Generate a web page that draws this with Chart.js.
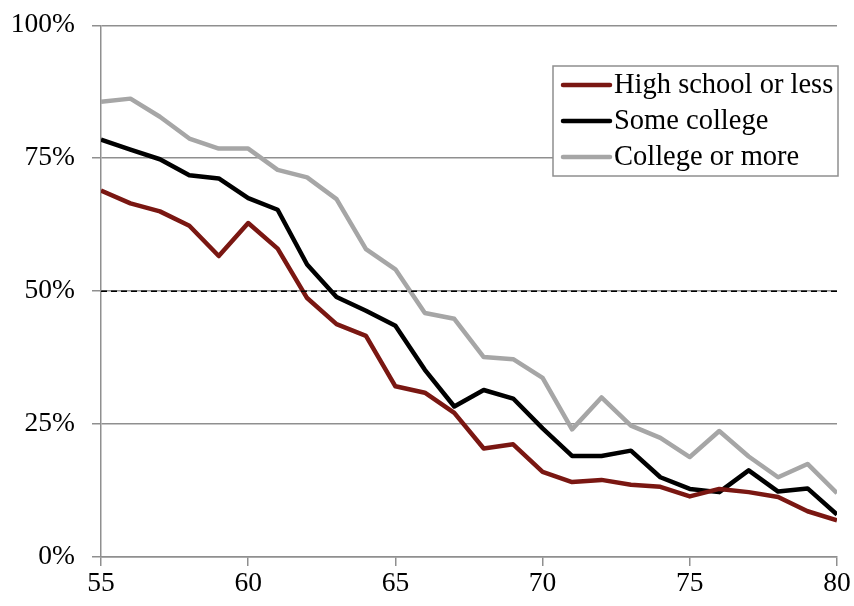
<!DOCTYPE html>
<html>
<head>
<meta charset="utf-8">
<script src="https://cdn.jsdelivr.net/npm/chart.js@4.4.0/dist/chart.umd.min.js"></script>
<style>
  html, body { margin: 0; padding: 0; background: #fff; }
  #wrap { width: 854px; height: 606px; }
</style>
</head>
<body>
<div id="wrap"><canvas id="chart" width="854" height="606"></canvas></div>
<script>
// --- data ---
const ages = [55, 56, 57, 58, 59, 60, 61, 62, 63, 64, 65, 66, 67, 68, 69, 70, 71, 72, 73, 74, 75, 76, 77, 78, 79, 80];
const highSchool = [68.9, 66.5, 65.0, 62.3, 56.6, 62.8, 58.0, 48.7, 43.8, 41.6, 32.1, 30.9, 27.1, 20.4, 21.2, 16.0, 14.1, 14.5, 13.6, 13.2, 11.4, 12.8, 12.2, 11.3, 8.6, 6.9];
const someCollege = [78.5, 76.6, 74.8, 71.8, 71.2, 67.5, 65.3, 55.0, 48.9, 46.3, 43.5, 35.2, 28.3, 31.4, 29.8, 24.2, 19.0, 19.0, 20.0, 15.0, 12.8, 12.2, 16.3, 12.3, 12.9, 8.0];
const collegeMore = [85.6, 86.2, 82.8, 78.7, 76.8, 76.8, 72.8, 71.4, 67.3, 57.9, 54.1, 45.9, 44.8, 37.6, 37.2, 33.7, 24.0, 30.0, 24.7, 22.4, 18.8, 23.7, 18.9, 15.0, 17.5, 12.0];
const seriesNames = ['High school or less', 'Some college', 'College or more'];
const threshold = 50;
const yTicks = [0, 25, 50, 75, 100];

const FONT = '"Liberation Serif", "Times New Roman", serif';
const GRID = '#8f8f8f';

function toPoints(values) {
    return ages.map((a, i) => ({ x: a, y: values[i] }));
}

// legend drawn inside the plot, like the original
const boxLegend = {
    id: 'boxLegend',
    afterDraw(chart) {
        const ctx = chart.ctx;
        const sets = chart.data.datasets.filter(d => d.label);
        const x0 = 553, y0 = 66, w = 285, h = 110, rowH = 36;
        ctx.save();
        ctx.fillStyle = '#fff';
        ctx.fillRect(x0, y0, w, h);
        ctx.strokeStyle = GRID;
        ctx.lineWidth = 1.5;
        ctx.strokeRect(x0, y0, w, h);
        ctx.font = '28.5px ' + FONT;
        ctx.textBaseline = 'middle';
        sets.forEach((d, i) => {
            const y = y0 + 19 + i * rowH;
            ctx.strokeStyle = d.borderColor;
            ctx.lineWidth = 4.5;
            ctx.lineCap = 'round';
            ctx.beginPath();
            ctx.moveTo(563, y);
            ctx.lineTo(610, y);
            ctx.stroke();
            ctx.fillStyle = '#000';
            ctx.fillText(d.label, 614, y + 1);
        });
        ctx.restore();
    }
};

const lineStyle = { borderWidth: 4.5, pointRadius: 0, tension: 0, borderJoinStyle: 'round', fill: false };

new Chart(document.getElementById('chart'), {
    type: 'line',
    data: {
        datasets: [
            { label: '', data: ages.map(a => ({ x: a, y: threshold })), borderColor: '#000', borderWidth: 1.5, borderDash: [6, 4], pointRadius: 0 },
            { label: seriesNames[0], data: toPoints(highSchool), borderColor: '#7a1712', ...lineStyle },
            { label: seriesNames[1], data: toPoints(someCollege), borderColor: '#000000', ...lineStyle },
            { label: seriesNames[2], data: toPoints(collegeMore), borderColor: '#a6a6a6', ...lineStyle }
        ]
    },
    options: {
        responsive: false,
        animation: false,
        devicePixelRatio: 1,
        layout: { padding: { top: 19, right: 17, left: 0, bottom: 0 } },
        plugins: { legend: { display: false }, tooltip: { enabled: false } },
        scales: {
            x: {
                type: 'linear',
                min: 55,
                max: 80,
                afterFit: s => { s.height = 49; },
                ticks: { stepSize: 5, color: '#000', padding: 1, font: { family: FONT, size: 27.5 } },
                grid: { drawOnChartArea: false, drawTicks: true, tickLength: 9, color: GRID, lineWidth: 1.5 },
                border: { display: true, color: GRID, width: 1.5 }
            },
            y: {
                min: 0,
                max: 100,
                afterFit: s => { s.width = 101; },
                afterBuildTicks: s => { s.ticks = yTicks.map(v => ({ value: v })); },
                ticks: { color: '#000', padding: 17, callback: v => v + '%', font: { family: FONT, size: 27.5, lineHeight: 0.6 } },
                grid: { color: GRID, lineWidth: 1.5, tickLength: 9 },
                border: { display: true, color: GRID, width: 1.5 }
            }
        }
    },
    plugins: [boxLegend]
});
</script>
</body>
</html>
